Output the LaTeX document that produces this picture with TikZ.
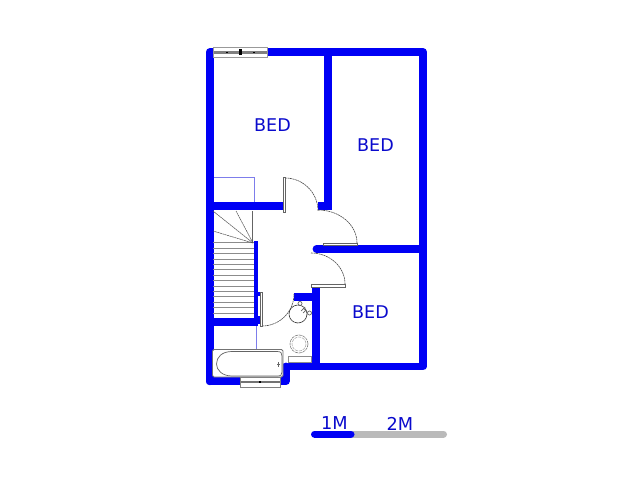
\documentclass[tikz,border=0pt]{standalone}
\usepackage{fontspec}
\setmainfont{DejaVu Sans}
\definecolor{wallblue}{RGB}{0,0,245}
\definecolor{textblue}{RGB}{10,10,205}
\definecolor{thinblue}{RGB}{125,125,235}
\definecolor{fixture}{RGB}{100,100,100}
\tikzset{
  wall/.style={draw=wallblue,line width=7.8bp,line join=round,line cap=round},
  wallb/.style={draw=wallblue,line width=7.8bp,line cap=butt},
  thinbl/.style={draw=thinblue,line width=0.7bp},
  fixt/.style={draw=fixture,line width=0.7bp},
  leaf/.style={draw=fixture,fill=white,line width=0.7bp},
  swing/.style={draw=black!70,line width=0.6bp,dash pattern=on 2bp off 0.6bp},
  winder/.style={draw=black!70,line width=0.5bp,dash pattern=on 2bp off 0.5bp},
  tread/.style={draw=black!45,line width=0.9bp},
  roomlabel/.style={text=textblue,font=\fontsize{17.6}{17.6}\selectfont,inner sep=0pt},
  scalelabel/.style={text=textblue,font=\fontsize{17.8}{17.8}\selectfont,inner sep=0pt},
}
\begin{document}
\begin{tikzpicture}[x=1bp,y=-1bp]
\useasboundingbox (0,0) rectangle (640,480);
\fill[white] (0,0) rectangle (640,480);
% thin blue lines
\draw[thinbl] (213,177) -- (254.5,177) -- (254.5,203);
\draw[thinbl] (256.5,326) -- (256.5,349);
% outer and main walls
\draw[wall] (209.8,381.3) -- (209.8,52) -- (423,52) -- (423,366.5) -- (289,366.5);
\draw[wall] (209.8,381.3) -- (285.8,381.3) -- (285.8,366.5);
\draw[wallb] (328,52) -- (328,210);
\draw[wallb] (318,206.3) -- (332,206.3);
\draw[wallb] (209.8,206.3) -- (284,206.3);
\draw[wall] (316.5,249) -- (423,249);
\draw[wallb] (316,287) -- (316,366);
\draw[wallb] (294,297) -- (316,297);
\draw[wallb] (209.8,322) -- (258,322);
\draw[draw=wallblue,line width=4bp] (256,241) -- (256,322);
\draw[draw=wallblue,line width=3.5bp] (258,294) -- (261,294);
\draw[draw=wallblue,line width=8bp] (258,320) -- (260,320);
% stairs
\foreach \k in {0,...,13} \draw[tread] (213,242.8+5.4*\k) -- (253.5,242.8+5.4*\k);
\draw[winder] (253,243) -- (213,211);
\draw[winder] (253,243) -- (236,211);
\draw[fixt] (252.5,211) -- (252.5,243);
\draw[winder] (253,243) -- (213,231);
% doors
\draw[swing] (285,178) arc[start angle=-90,end angle=0,radius=33];
\draw[leaf] (283.7,177) rectangle (285.6,212);
\draw[swing] (318,210) arc[start angle=-90,end angle=0,x radius=39,y radius=33];
\draw[leaf] (323,243) rectangle (357.5,245);
\draw[swing] (311,253) arc[start angle=-90,end angle=0,x radius=34,y radius=31];
\draw[leaf] (311,284.5) rectangle (345,287);
\draw[swing] (262,326) arc[start angle=90,end angle=0,radius=32];
\draw[leaf] (260,292.5) rectangle (262,326);
% top window
\draw[draw=black!40,fill=white,line width=0.7bp] (213.5,47) rectangle (267.5,57);
\fill[black!50] (214,51) rectangle (267,54);
\fill[black] (239,49) rectangle (241.5,55.5);
\fill[black] (226,52) rectangle (228,53);
\fill[black] (252.5,52) rectangle (254.5,53);
% bath
\draw[draw=black!55,fill=white,line width=0.8bp,rounded corners=1.5bp] (212.5,349.5) -- (283,349.5) -- (283,377) -- (212.5,377) -- cycle;
\draw[fixt] (232,351.5) -- (277,351.5) .. controls (281,351.5) and (282,353) .. (282,356) -- (282,372) .. controls (282,375) and (281,376) .. (277,376) -- (232,376) .. controls (222,376) and (216.5,370) .. (216.5,364) .. controls (216.5,357) and (222,351.5) .. (232,351.5) -- cycle;
\fill[black!60] (276.5,363.5) rectangle (279.5,365);
\fill[black!60] (277.5,362) rectangle (278.5,366.5);
% bath window
\draw[draw=black!50,fill=white,line width=0.7bp] (240.5,377) rectangle (280.5,387);
\fill[black!55] (241,380.5) rectangle (280,383);
\fill[black] (259.3,380.5) rectangle (260.8,383);
% toilet
\draw[draw=black!45,fill=white,line width=0.7bp] (288,356) rectangle (311,362.5);
\draw[draw=black!50,line width=0.6bp,dash pattern=on 3bp off 0.8bp] (299,344) circle[radius=9];
\draw[draw=black!30,line width=0.6bp,dash pattern=on 3bp off 1bp] (299,344) circle[radius=7];
% basin
\draw[draw=black!75,line width=0.7bp,dash pattern=on 3bp off 0.5bp] (298,314) circle[radius=9];
\draw[fixt] (300,303.5) circle[radius=2];
\draw[fixt] (309.5,313) circle[radius=2];
\draw[fixt] (303,308) -- (307,312);
\draw[fixt] (301,311) -- (305,307);
\draw[fixt] (303,313) -- (306,310);
% labels
\node[roomlabel] (bedA) at (272.5,125.5) {BED};
\node[roomlabel] (bedB) at (375.5,145.5) {BED};
\node[roomlabel] (bedC) at (370.5,312.5) {BED};
% scale bar
\draw[draw=black!27,line width=7bp,line cap=round] (352,434) -- (443.5,434);
\draw[draw=wallblue,line width=7bp,line cap=round] (314.5,434) -- (351,434);
\node[scalelabel] (one) at (334.5,423.5) {1M};
\node[scalelabel] (two) at (400,423.5) {2M};
\end{tikzpicture}
\end{document}
